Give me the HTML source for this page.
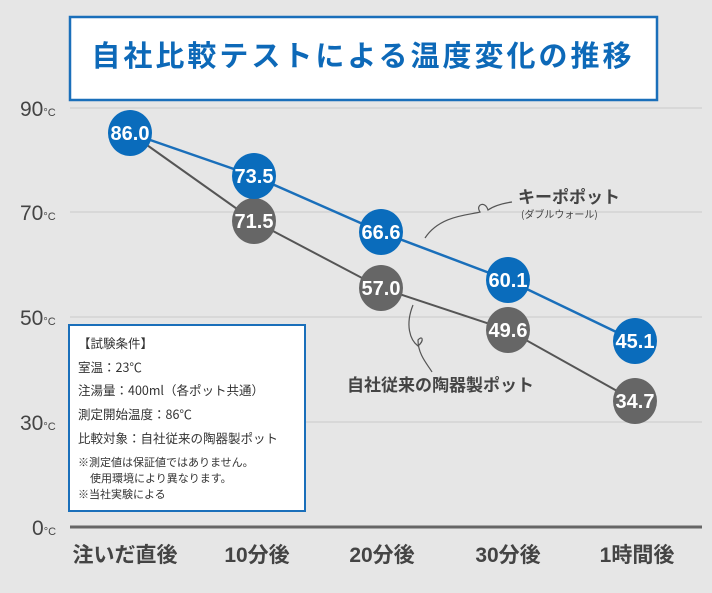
<!DOCTYPE html>
<html><head><meta charset="utf-8"><style>
body{margin:0;width:712px;height:593px;background:#e6e6e6;overflow:hidden;font-family:"Liberation Sans","Noto Sans CJK JP",sans-serif;}
</style></head><body>
<svg width="712" height="593" xmlns="http://www.w3.org/2000/svg" style="position:absolute;left:0;top:0">
<rect x="70" y="17" width="587" height="83" fill="#fff" stroke="#1a6fba" stroke-width="2.5"/>
<text x="363" y="58" text-anchor="middle" dominant-baseline="middle" font-size="29" font-weight="bold" fill="#0d69b8" letter-spacing="3" font-family="Noto Sans CJK JP,sans-serif">自社比較テストによる温度変化の推移</text>
<g stroke="#cfcfcf" stroke-width="1.2">
<line x1="70" y1="108" x2="702" y2="108"/><line x1="70" y1="212" x2="702" y2="212"/><line x1="70" y1="317" x2="702" y2="317"/><line x1="70" y1="422" x2="702" y2="422"/>
</g>
<line x1="70" y1="527" x2="702" y2="527" stroke="#666" stroke-width="3"/>
<g font-size="21" fill="#444" font-family="Liberation Sans Narrow,Liberation Sans,sans-serif">
<text x="20" y="116">90<tspan font-size="11">°C</tspan></text>
<text x="20" y="220">70<tspan font-size="11">°C</tspan></text>
<text x="20" y="325">50<tspan font-size="11">°C</tspan></text>
<text x="20" y="430">30<tspan font-size="11">°C</tspan></text>
<text x="32" y="535">0<tspan font-size="11">°C</tspan></text>
</g>
<g font-size="21" font-weight="bold" fill="#444" text-anchor="middle" font-family="Liberation Sans Narrow,Liberation Sans,Noto Sans CJK JP,sans-serif">
<text x="125" y="562">注いだ直後</text><text x="257" y="562">10分後</text><text x="382" y="562">20分後</text><text x="508" y="562">30分後</text><text x="637" y="562">1時間後</text>
</g>
<polyline points="130,133 254,221 381,288 508,330 635,401" fill="none" stroke="#555" stroke-width="2"/>
<polyline points="130,133 254,176 381,232 508,280 635,341" fill="none" stroke="#1a6fba" stroke-width="2.5"/>
<path d="M425,238 C440,215 470,215 480,212 C475,205 485,200 488,210 C495,205 505,203 512,202" fill="none" stroke="#555" stroke-width="1.2"/>
<path d="M413,305 C405,325 410,340 418,346 C425,340 422,335 418,340 C418,355 428,365 432,372" fill="none" stroke="#555" stroke-width="1.2"/>
<text x="518" y="203" font-size="17" font-weight="bold" fill="#444" font-family="Noto Sans CJK JP,sans-serif">キーポポット</text>
<text x="521" y="218" font-size="10" fill="#444" font-family="Noto Sans CJK JP,sans-serif">(ダブルウォール)</text>
<text x="347" y="391" font-size="17" font-weight="bold" fill="#444" font-family="Noto Sans CJK JP,sans-serif">自社従来の陶器製ポット</text>
<g font-size="20" font-weight="bold" fill="#fff" text-anchor="middle" font-family="Liberation Sans Narrow,Liberation Sans,sans-serif">
<g fill="#666"><ellipse cx="254" cy="221" rx="22" ry="23"/><ellipse cx="381" cy="288" rx="22" ry="23"/><ellipse cx="508" cy="330" rx="22" ry="23"/><ellipse cx="635" cy="401" rx="22" ry="23"/></g>
<g fill="#0a6cbc"><ellipse cx="130" cy="133" rx="22" ry="23"/><ellipse cx="254" cy="176" rx="22" ry="23"/><ellipse cx="381" cy="232" rx="22" ry="23"/><ellipse cx="508" cy="280" rx="22" ry="23"/><ellipse cx="635" cy="341" rx="22" ry="23"/></g>
<text x="130" y="140">86.0</text><text x="254" y="183">73.5</text><text x="381" y="239">66.6</text><text x="508" y="287">60.1</text><text x="635" y="348">45.1</text>
<text x="254" y="228">71.5</text><text x="381" y="295">57.0</text><text x="508" y="337">49.6</text><text x="635" y="408">34.7</text>
</g>
<rect x="69" y="325" width="236" height="186" fill="#fff" stroke="#1a6fba" stroke-width="2"/>
<g font-size="12.5" fill="#333" font-family="Noto Sans CJK JP,sans-serif">
<text x="78" y="348">【試験条件】</text>
<text x="78" y="372">室温：23℃</text>
<text x="78" y="395">注湯量：400ml（各ポット共通）</text>
<text x="78" y="419">測定開始温度：86℃</text>
<text x="78" y="443">比較対象：自社従来の陶器製ポット</text>
<g font-size="11"><text x="78" y="466">※測定値は保証値ではありません。</text>
<text x="90" y="482">使用環境により異なります。</text>
<text x="78" y="498">※当社実験による</text></g>
</g>
</svg>
</body></html>
